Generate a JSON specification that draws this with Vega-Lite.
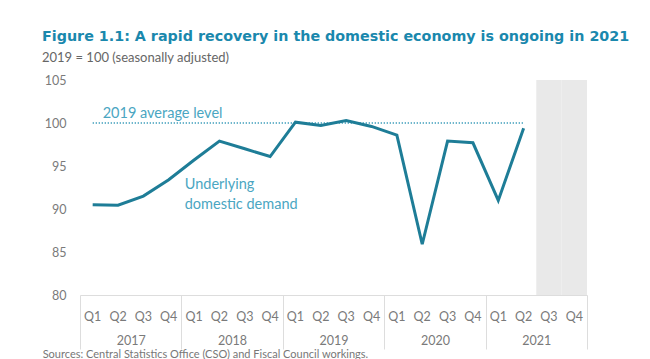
{
  "$schema": "https://vega.github.io/schema/vega-lite/v6.json",
  "width": 507,
  "height": 215,
  "autosize": {"type": "none"},
  "padding": {"left": 80, "top": 80, "right": 63, "bottom": 64},
  "background": "white",
  "title": {
    "text": "Figure 1.1: A rapid recovery in the domestic economy is ongoing in 2021",
    "subtitle": "2019 = 100 (seasonally adjusted)",
    "anchor": "start",
    "frame": "group",
    "dx": -38,
    "offset": 9,
    "font": "DejaVu Sans",
    "fontSize": 14.3,
    "fontWeight": "bold",
    "color": "#1a88ad",
    "subtitleFont": "Lato",
    "subtitleFontSize": 13,
    "subtitleColor": "#666666",
    "subtitlePadding": 8
  },
  "config": {
    "view": {"stroke": null},
    "axis": {"labelFont": "Lato", "labelFontSize": 12.5, "labelColor": "#7a7a7a", "grid": false}
  },
  "datasets": {
    "series": [
      {"q": "2017-Q1", "v": 90.5},
      {"q": "2017-Q2", "v": 90.45},
      {"q": "2017-Q3", "v": 91.5},
      {"q": "2017-Q4", "v": 93.4},
      {"q": "2018-Q1", "v": 95.7},
      {"q": "2018-Q2", "v": 97.9},
      {"q": "2018-Q3", "v": 97.0},
      {"q": "2018-Q4", "v": 96.1},
      {"q": "2019-Q1", "v": 100.1},
      {"q": "2019-Q2", "v": 99.7},
      {"q": "2019-Q3", "v": 100.3},
      {"q": "2019-Q4", "v": 99.6},
      {"q": "2020-Q1", "v": 98.6},
      {"q": "2020-Q2", "v": 85.9},
      {"q": "2020-Q3", "v": 97.9},
      {"q": "2020-Q4", "v": 97.7},
      {"q": "2021-Q1", "v": 91.0},
      {"q": "2021-Q2", "v": 99.4}
    ],
    "avg": [
      {"q": "2017-Q1", "v": 100},
      {"q": "2021-Q2", "v": 100}
    ],
    "shade": [
      {"q": "2021-Q3", "top": 105, "bottom": 80},
      {"q": "2021-Q4", "top": 105, "bottom": 80}
    ],
    "years": [
      {"year": "2017"}, {"year": "2018"}, {"year": "2019"}, {"year": "2020"}, {"year": "2021"}
    ]
  },
  "layer": [
    {
      "layer": [
        {
          "data": {"name": "shade"},
          "mark": {"type": "bar", "color": "#e9e9e9"},
          "encoding": {
            "x": {
              "field": "q", "type": "ordinal",
              "scale": {
                "domain": ["2017-Q1","2017-Q2","2017-Q3","2017-Q4","2018-Q1","2018-Q2","2018-Q3","2018-Q4","2019-Q1","2019-Q2","2019-Q3","2019-Q4","2020-Q1","2020-Q2","2020-Q3","2020-Q4","2021-Q1","2021-Q2","2021-Q3","2021-Q4"],
                "paddingInner": 0, "paddingOuter": 0
              },
              "axis": {
                "orient": "bottom",
                "title": null,
                "labelAngle": 0,
                "labelExpr": "split(datum.value, '-')[1]",
                "ticks": false,
                "labelPadding": 15,
                "domain": true,
                "domainColor": "#dddddd",
                "domainWidth": 1
              }
            },
            "y": {
              "field": "top", "type": "quantitative",
              "scale": {"domain": [80, 105], "nice": false, "zero": false},
              "axis": {
                "title": null,
                "values": [80, 85, 90, 95, 100, 105],
                "ticks": false,
                "domain": false,
                "labelPadding": 14
              }
            },
            "y2": {"field": "bottom"}
          }
        },
        {
          "data": {"name": "avg"},
          "mark": {"type": "line", "color": "#3a9cba", "strokeWidth": 1.3, "strokeDash": [1.3, 1.7]},
          "encoding": {
            "x": {"field": "q", "type": "ordinal"},
            "y": {"field": "v", "type": "quantitative"}
          }
        },
        {
          "data": {"name": "series"},
          "mark": {"type": "line", "color": "#1e7d97", "strokeWidth": 3, "strokeJoin": "miter"},
          "encoding": {
            "x": {"field": "q", "type": "ordinal"},
            "y": {"field": "v", "type": "quantitative"}
          }
        },
        {
          "data": {"values": [{"q": "2017-Q1", "v": 101.0, "label": "2019 average level"}]},
          "mark": {"type": "text", "align": "left", "baseline": "middle", "dx": 10, "font": "Lato", "fontSize": 14.5, "color": "#4aa6c2"},
          "encoding": {
            "x": {"field": "q", "type": "ordinal"},
            "y": {"field": "v", "type": "quantitative"},
            "text": {"field": "label"}
          }
        },
        {
          "data": {"values": [{"q": "2017-Q4", "v": 92.8, "label": "Underlying\ndomestic demand"}]},
          "mark": {"type": "text", "align": "left", "baseline": "middle", "dx": 16, "lineBreak": "\n", "lineHeight": 20, "font": "Lato", "fontSize": 14.5, "color": "#4aa6c2"},
          "encoding": {
            "x": {"field": "q", "type": "ordinal"},
            "y": {"field": "v", "type": "quantitative"},
            "text": {"field": "label"}
          }
        },
        {
          "data": {"values": [{"q": "2017-Q1", "v": 72.4, "label": "Sources: Central Statistics Office (CSO) and Fiscal Council workings."}]},
          "mark": {"type": "text", "align": "left", "baseline": "bottom", "dx": -50, "font": "Lato", "fontSize": 11, "color": "#777777"},
          "encoding": {
            "x": {"field": "q", "type": "ordinal"},
            "y": {"field": "v", "type": "quantitative"},
            "text": {"field": "label"}
          }
        }
      ]
    },
    {
      "data": {"name": "years"},
      "mark": {"type": "bar", "opacity": 0},
      "encoding": {
        "x": {
          "field": "year", "type": "ordinal",
          "scale": {"paddingInner": 0, "paddingOuter": 0},
          "axis": {
            "orient": "bottom",
            "title": null,
            "labelAngle": 0,
            "domain": false,
            "ticks": true,
            "tickBand": "extent",
            "tickSize": 54,
            "tickColor": "#dddddd",
            "labelPadding": -15
          }
        }
      }
    }
  ],
  "resolve": {"scale": {"x": "independent"}, "axis": {"x": "independent"}}
}
